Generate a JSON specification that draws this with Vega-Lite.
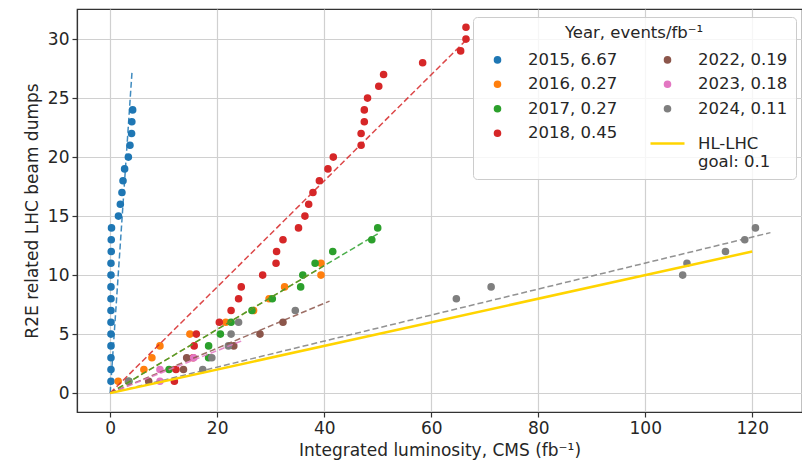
{
  "$schema": "https://vega.github.io/schema/vega-lite/v6.json",
  "width": 725,
  "height": 403,
  "autosize": {"type": "none"},
  "padding": {"left": 77, "top": 9, "right": 0, "bottom": 55},
  "background": "white",
  "config": {
    "font": "DejaVu Sans",
    "view": {"stroke": "#333333", "strokeWidth": 1.2},
    "axis": {
      "domainColor": "#333333",
      "domainWidth": 1.2,
      "tickColor": "#333333",
      "tickSize": 5,
      "tickWidth": 1.2,
      "labelFontSize": 17,
      "labelColor": "#262626",
      "labelPadding": 3,
      "titleFontSize": 17,
      "titleFontWeight": "normal",
      "titleColor": "#262626",
      "gridColor": "#d0d0d0",
      "gridWidth": 1.2
    }
  },
  "datasets": {
    "points": [
      {"series": "2015, 6.67", "lumi": 0.15, "dumps": 1},
      {"series": "2015, 6.67", "lumi": 0.15, "dumps": 2},
      {"series": "2015, 6.67", "lumi": 0.15, "dumps": 3},
      {"series": "2015, 6.67", "lumi": 0.15, "dumps": 4},
      {"series": "2015, 6.67", "lumi": 0.15, "dumps": 5},
      {"series": "2015, 6.67", "lumi": 0.15, "dumps": 6},
      {"series": "2015, 6.67", "lumi": 0.15, "dumps": 7},
      {"series": "2015, 6.67", "lumi": 0.15, "dumps": 8},
      {"series": "2015, 6.67", "lumi": 0.15, "dumps": 9},
      {"series": "2015, 6.67", "lumi": 0.15, "dumps": 10},
      {"series": "2015, 6.67", "lumi": 0.15, "dumps": 11},
      {"series": "2015, 6.67", "lumi": 0.2, "dumps": 12},
      {"series": "2015, 6.67", "lumi": 0.2, "dumps": 13},
      {"series": "2015, 6.67", "lumi": 0.25, "dumps": 14},
      {"series": "2015, 6.67", "lumi": 1.55, "dumps": 15},
      {"series": "2015, 6.67", "lumi": 1.9, "dumps": 16},
      {"series": "2015, 6.67", "lumi": 2.2, "dumps": 17},
      {"series": "2015, 6.67", "lumi": 2.4, "dumps": 18},
      {"series": "2015, 6.67", "lumi": 2.7, "dumps": 19},
      {"series": "2015, 6.67", "lumi": 3.4, "dumps": 20},
      {"series": "2015, 6.67", "lumi": 3.7, "dumps": 21},
      {"series": "2015, 6.67", "lumi": 4.0, "dumps": 22},
      {"series": "2015, 6.67", "lumi": 4.05, "dumps": 23},
      {"series": "2015, 6.67", "lumi": 4.2, "dumps": 24},
      {"series": "2016, 0.27", "lumi": 1.5, "dumps": 1},
      {"series": "2016, 0.27", "lumi": 6.3, "dumps": 2},
      {"series": "2016, 0.27", "lumi": 7.8, "dumps": 3},
      {"series": "2016, 0.27", "lumi": 9.3, "dumps": 4},
      {"series": "2016, 0.27", "lumi": 14.9, "dumps": 5},
      {"series": "2016, 0.27", "lumi": 21.6, "dumps": 6},
      {"series": "2016, 0.27", "lumi": 26.8, "dumps": 7},
      {"series": "2016, 0.27", "lumi": 29.7, "dumps": 8},
      {"series": "2016, 0.27", "lumi": 32.6, "dumps": 9},
      {"series": "2016, 0.27", "lumi": 39.4, "dumps": 10},
      {"series": "2016, 0.27", "lumi": 39.4, "dumps": 11},
      {"series": "2017, 0.27", "lumi": 3.5, "dumps": 1},
      {"series": "2017, 0.27", "lumi": 11.0, "dumps": 2},
      {"series": "2017, 0.27", "lumi": 18.4, "dumps": 3},
      {"series": "2017, 0.27", "lumi": 18.4, "dumps": 4},
      {"series": "2017, 0.27", "lumi": 20.6, "dumps": 5},
      {"series": "2017, 0.27", "lumi": 22.6, "dumps": 6},
      {"series": "2017, 0.27", "lumi": 26.5, "dumps": 7},
      {"series": "2017, 0.27", "lumi": 30.3, "dumps": 8},
      {"series": "2017, 0.27", "lumi": 35.6, "dumps": 9},
      {"series": "2017, 0.27", "lumi": 36.0, "dumps": 10},
      {"series": "2017, 0.27", "lumi": 38.3, "dumps": 11},
      {"series": "2017, 0.27", "lumi": 41.6, "dumps": 12},
      {"series": "2017, 0.27", "lumi": 48.9, "dumps": 13},
      {"series": "2017, 0.27", "lumi": 50.0, "dumps": 14},
      {"series": "2018, 0.45", "lumi": 12.0, "dumps": 1},
      {"series": "2018, 0.45", "lumi": 12.3, "dumps": 2},
      {"series": "2018, 0.45", "lumi": 15.5, "dumps": 3},
      {"series": "2018, 0.45", "lumi": 15.7, "dumps": 4},
      {"series": "2018, 0.45", "lumi": 16.1, "dumps": 5},
      {"series": "2018, 0.45", "lumi": 20.4, "dumps": 6},
      {"series": "2018, 0.45", "lumi": 22.6, "dumps": 7},
      {"series": "2018, 0.45", "lumi": 24.0, "dumps": 8},
      {"series": "2018, 0.45", "lumi": 24.5, "dumps": 9},
      {"series": "2018, 0.45", "lumi": 28.5, "dumps": 10},
      {"series": "2018, 0.45", "lumi": 31.0, "dumps": 11},
      {"series": "2018, 0.45", "lumi": 31.1, "dumps": 12},
      {"series": "2018, 0.45", "lumi": 32.3, "dumps": 13},
      {"series": "2018, 0.45", "lumi": 35.2, "dumps": 14},
      {"series": "2018, 0.45", "lumi": 36.4, "dumps": 15},
      {"series": "2018, 0.45", "lumi": 37.1, "dumps": 16},
      {"series": "2018, 0.45", "lumi": 37.9, "dumps": 17},
      {"series": "2018, 0.45", "lumi": 39.1, "dumps": 18},
      {"series": "2018, 0.45", "lumi": 40.7, "dumps": 19},
      {"series": "2018, 0.45", "lumi": 41.7, "dumps": 20},
      {"series": "2018, 0.45", "lumi": 46.9, "dumps": 21},
      {"series": "2018, 0.45", "lumi": 46.9, "dumps": 22},
      {"series": "2018, 0.45", "lumi": 47.5, "dumps": 23},
      {"series": "2018, 0.45", "lumi": 47.5, "dumps": 24},
      {"series": "2018, 0.45", "lumi": 48.1, "dumps": 25},
      {"series": "2018, 0.45", "lumi": 50.2, "dumps": 26},
      {"series": "2018, 0.45", "lumi": 51.1, "dumps": 27},
      {"series": "2018, 0.45", "lumi": 58.4, "dumps": 28},
      {"series": "2018, 0.45", "lumi": 65.5, "dumps": 29},
      {"series": "2018, 0.45", "lumi": 66.5, "dumps": 30},
      {"series": "2018, 0.45", "lumi": 66.5, "dumps": 31},
      {"series": "2022, 0.19", "lumi": 7.2, "dumps": 1},
      {"series": "2022, 0.19", "lumi": 13.7, "dumps": 2},
      {"series": "2022, 0.19", "lumi": 14.3, "dumps": 3},
      {"series": "2022, 0.19", "lumi": 23.1, "dumps": 4},
      {"series": "2022, 0.19", "lumi": 28.0, "dumps": 5},
      {"series": "2022, 0.19", "lumi": 32.3, "dumps": 6},
      {"series": "2023, 0.18", "lumi": 9.3, "dumps": 1},
      {"series": "2023, 0.18", "lumi": 9.3, "dumps": 2},
      {"series": "2023, 0.18", "lumi": 15.6, "dumps": 3},
      {"series": "2024, 0.11", "lumi": 3.4, "dumps": 1},
      {"series": "2024, 0.11", "lumi": 17.3, "dumps": 2},
      {"series": "2024, 0.11", "lumi": 19.0, "dumps": 3},
      {"series": "2024, 0.11", "lumi": 22.1, "dumps": 4},
      {"series": "2024, 0.11", "lumi": 22.6, "dumps": 5},
      {"series": "2024, 0.11", "lumi": 24.0, "dumps": 6},
      {"series": "2024, 0.11", "lumi": 34.6, "dumps": 7},
      {"series": "2024, 0.11", "lumi": 64.7, "dumps": 8},
      {"series": "2024, 0.11", "lumi": 71.2, "dumps": 9},
      {"series": "2024, 0.11", "lumi": 107.0, "dumps": 10},
      {"series": "2024, 0.11", "lumi": 107.8, "dumps": 11},
      {"series": "2024, 0.11", "lumi": 115.0, "dumps": 12},
      {"series": "2024, 0.11", "lumi": 118.6, "dumps": 13},
      {"series": "2024, 0.11", "lumi": 120.6, "dumps": 14}
    ],
    "fits": [
      {"series": "2015, 6.67", "x0": 0, "y0": 0, "x1": 4.1, "y1": 27.35},
      {"series": "2016, 0.27", "x0": 0, "y0": 0, "x1": 40.0, "y1": 10.8},
      {"series": "2017, 0.27", "x0": 0, "y0": 0, "x1": 50.0, "y1": 13.5},
      {"series": "2018, 0.45", "x0": 0, "y0": 0, "x1": 66.5, "y1": 29.9},
      {"series": "2022, 0.19", "x0": 0, "y0": 0, "x1": 41.0, "y1": 7.8},
      {"series": "2023, 0.18", "x0": 0, "y0": 0, "x1": 25.0, "y1": 4.5},
      {"series": "2024, 0.11", "x0": 0, "y0": 0, "x1": 123.4, "y1": 13.6}
    ],
    "goal": [
      {"series": "HL-LHC goal: 0.1", "x0": 0, "y0": 0, "x1": 120, "y1": 12}
    ]
  },
  "layer": [
    {
      "data": {"name": "points"},
      "mark": {"type": "point", "filled": false, "strokeWidth": 2.5, "opacity": 1},
      "encoding": {
        "x": {
          "field": "lumi", "type": "quantitative",
          "scale": {"domain": [-6.2, 129.3], "nice": false, "zero": false},
          "axis": {"title": "Integrated luminosity, CMS (fb⁻¹)", "values": [0, 20, 40, 60, 80, 100, 120], "titlePadding": 6}
        },
        "y": {
          "field": "dumps", "type": "quantitative",
          "scale": {"domain": [-1.6, 32.55], "nice": false, "zero": false},
          "axis": {"title": "R2E related LHC beam dumps", "values": [0, 5, 10, 15, 20, 25, 30], "titlePadding": 6}
        },
        "fill": {
          "field": "series", "type": "nominal",
          "scale": {
            "domain": ["2015, 6.67", "2016, 0.27", "2017, 0.27", "2018, 0.45", "2022, 0.19", "2023, 0.18", "2024, 0.11", "HL-LHC goal: 0.1"],
            "range": ["#1f77b4", "#ff7f0e", "#2ca02c", "#d62728", "#8c564b", "#e377c2", "#7f7f7f", "#ffd400"]
          },
          "legend": {"title": "Year, events/fb⁻¹"}
        },
        "shape": {
          "field": "series", "type": "nominal",
          "scale": {
            "domain": ["2015, 6.67", "2016, 0.27", "2017, 0.27", "2018, 0.45", "2022, 0.19", "2023, 0.18", "2024, 0.11", "HL-LHC goal: 0.1"],
            "range": ["circle", "circle", "circle", "circle", "circle", "circle", "circle", "stroke"]
          },
          "legend": {"title": "Year, events/fb⁻¹"}
        },
        "size": {
          "field": "series", "type": "nominal",
          "scale": {
            "type": "ordinal",
            "domain": ["2015, 6.67", "2016, 0.27", "2017, 0.27", "2018, 0.45", "2022, 0.19", "2023, 0.18", "2024, 0.11", "HL-LHC goal: 0.1"],
            "range": [26, 26, 26, 26, 26, 26, 26, 1156]
          },
          "legend": {"title": "Year, events/fb⁻¹"}
        },
        "color": {
          "field": "series", "type": "nominal",
          "scale": {
            "domain": ["2015, 6.67", "2016, 0.27", "2017, 0.27", "2018, 0.45", "2022, 0.19", "2023, 0.18", "2024, 0.11", "HL-LHC goal: 0.1"],
            "range": ["#1f77b4", "#ff7f0e", "#2ca02c", "#d62728", "#8c564b", "#e377c2", "#7f7f7f", "#ffd400"]
          },
          "legend": {
            "title": "Year, events/fb⁻¹",
            "orient": "none",
            "legendX": 396,
            "legendY": 8,
            "columns": 2,
            "direction": "vertical",
            "padding": 8,
            "cornerRadius": 4,
            "fillColor": "rgba(255,255,255,0.8)",
            "strokeColor": "#cccccc",
            "titleFontSize": 16.5,
            "titleFontWeight": "normal",
            "titleColor": "#262626",
            "titleAnchor": "middle",
            "titleAlign": "center",
            "titlePadding": 10,
            "labelFontSize": 16.5,
            "labelColor": "#262626",
            "labelOffset": 12,
            "labelLimit": 300,
            "symbolOffset": -2,
            "symbolStrokeWidth": 2.5,
            "columnPadding": 27,
            "rowPadding": 7.5,
            "labelExpr": "datum.label == 'HL-LHC goal: 0.1' ? ['HL-LHC', 'goal: 0.1'] : datum.label"
          }
        }
      }
    },
    {
      "data": {"name": "fits"},
      "mark": {"type": "rule", "strokeDash": [6, 3], "strokeWidth": 1.5, "opacity": 0.85},
      "encoding": {
        "x": {"field": "x0", "type": "quantitative"},
        "y": {"field": "y0", "type": "quantitative"},
        "x2": {"field": "x1"},
        "y2": {"field": "y1"},
        "color": {"field": "series", "type": "nominal"}
      }
    },
    {
      "data": {"name": "goal"},
      "mark": {"type": "rule", "strokeWidth": 2.5},
      "encoding": {
        "x": {"field": "x0", "type": "quantitative"},
        "y": {"field": "y0", "type": "quantitative"},
        "x2": {"field": "x1"},
        "y2": {"field": "y1"},
        "color": {"field": "series", "type": "nominal"}
      }
    }
  ]
}
